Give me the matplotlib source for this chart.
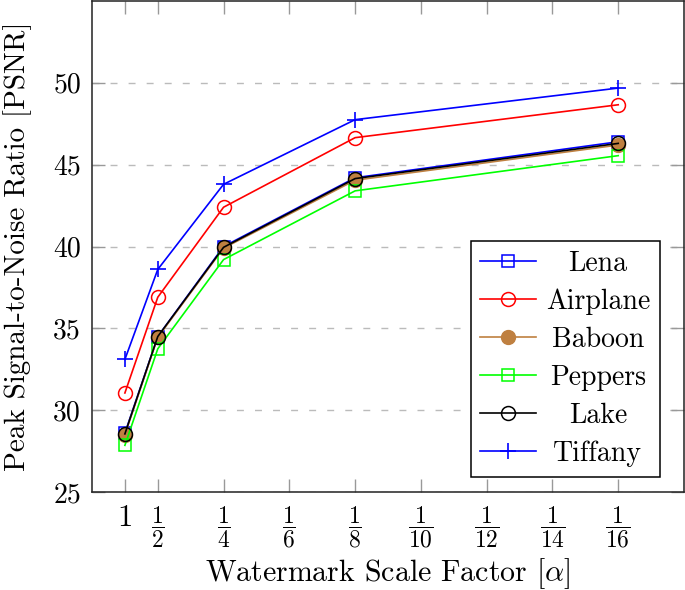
import matplotlib
matplotlib.use('Agg')
import matplotlib.pyplot as plt
import numpy as np

plt.rcParams['font.family'] = 'serif'
plt.rcParams['font.serif'] = ['cmr10']
plt.rcParams['mathtext.fontset'] = 'cm'
plt.rcParams['axes.formatter.use_mathtext'] = True

# scale factor denominators (alpha = 1/x)
scale = [1, 2, 4, 8, 16]
lena = [28.6, 34.5, 40.0, 44.2, 46.4]
airplane = [31.05, 36.9, 42.4, 46.65, 48.66]
baboon = [28.5, 34.45, 39.9, 44.05, 46.2]
peppers = [27.85, 33.75, 39.2, 43.4, 45.55]
lake = [28.55, 34.5, 39.95, 44.15, 46.3]
tiffany = [33.1, 38.6, 43.8, 47.75, 49.68]

xtick_pos = [1, 2, 4, 6, 8, 10, 12, 14, 16]
xtick_labels = ['$1$'] + [r'$\dfrac{1}{%d}$' % d for d in xtick_pos[1:]]
ytick_pos = [25, 30, 35, 40, 45, 50]

fig = plt.figure(figsize=(6.85, 5.9), dpi=100)
ax = fig.add_axes([92 / 685, 98 / 590, 592 / 685, 491 / 590])

brown = (0.75, 0.5, 0.25)
lw = 1.2
ms = 9
ax.plot(scale, lena, color='blue', marker='s', mfc='none', ms=ms, lw=lw, mew=1.1, label='Lena')
ax.plot(scale, airplane, color='red', marker='o', mfc='none', ms=ms + 1, lw=lw, mew=1.1, label='Airplane')
ax.plot(scale, baboon, color=brown, marker='o', ms=ms + 1, lw=lw, label='Baboon')
ax.plot(scale, peppers, color=(0, 1, 0), marker='s', mfc='none', ms=ms, lw=lw, mew=1.1, label='Peppers')
ax.plot(scale, lake, color='black', marker='o', mfc='none', ms=ms + 1, lw=lw, mew=1.1, label='Lake')
ax.plot(scale, tiffany, color='blue', marker='+', ms=ms + 2, lw=lw, mew=1.2, label='Tiffany')

ax.set_xlim(0, 18)
ax.set_ylim(25, 55)
ax.set_xticks(xtick_pos)
ax.set_xticklabels(xtick_labels, fontsize=17)
ax.set_yticks(ytick_pos)
ax.set_yticklabels([str(v) for v in ytick_pos], fontsize=20)

ax.tick_params(direction='in', length=9.5, width=1, color='#999999',
               top=True, right=True, pad=8)
ax.tick_params(axis='x', pad=9)
ax.grid(axis='y', color='#bbbbbb', lw=1, linestyle=(0, (5, 8)))
for sp in ax.spines.values():
    sp.set_linewidth(1.1)
    sp.set_color('#222222')

ax.set_xlabel(r'Watermark Scale Factor $[\alpha]$', fontsize=21.5)
ax.xaxis.set_label_coords(0.5, -0.13)
ax.set_ylabel('Peak Signal-to-Noise Ratio [PSNR]', fontsize=21)
ax.yaxis.set_label_coords(-0.102, 0.5)

leg = ax.legend(loc='lower right', bbox_to_anchor=(0.959, 0.031), borderaxespad=0,
                fontsize=20, fancybox=False, framealpha=1, edgecolor='black',
                handlelength=2.0, handletextpad=0.35, labelspacing=0.42,
                borderpad=0.35)
leg.get_frame().set_linewidth(1.1)

# center legend labels like pgfplots does; the plain "1" tick is larger
fig.canvas.draw()
ax.get_xticklabels()[0].set_fontsize(22)
texts = leg.get_texts()
widths = [t.get_window_extent().width for t in texts]
wmax = max(widths)
for t, w in zip(texts, widths):
    t.set_position(((wmax - w) / 2, 0))

plt.savefig('out.png', dpi=100)
